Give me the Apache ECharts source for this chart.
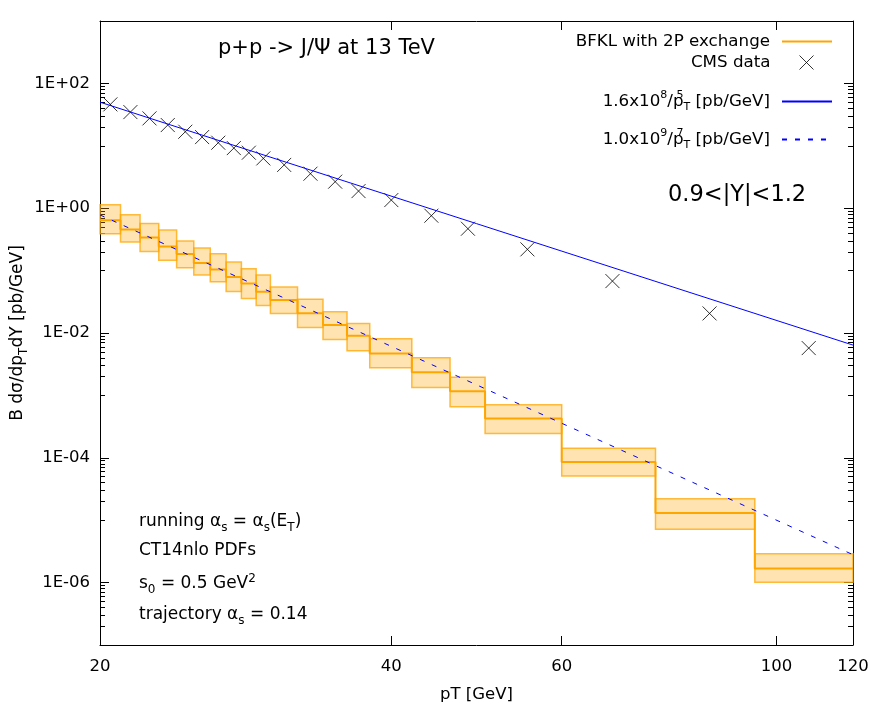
<!DOCTYPE html>
<html>
<head>
<meta charset="utf-8">
<script src="https://cdn.jsdelivr.net/npm/echarts@6/dist/echarts.min.js"></script>
<style>
html,body{margin:0;padding:0;background:#fff;}
#main{width:886px;height:709px;}
</style>
</head>
<body>
<div id="main"></div>
<script>
// 数据
var binEdges = [20,21,22,23,24,25,26,27,28,29,30,32,34,36,38,42,46,50,60,75,95,120];
var bfklCentral = [0.644,0.457,0.340,0.244,0.184,0.132,0.1045,0.0787,0.0624,0.0459,0.0337,0.0208,0.0134,0.00906,0.00471,0.00234,0.00117,0.000428,8.53e-5,1.30e-5,1.69e-6];
var bfklLow = [0.39,0.286,0.203,0.146,0.111,0.0848,0.0664,0.0464,0.0358,0.0277,0.0206,0.0122,0.00789,0.0052,0.00278,0.00134,0.000659,0.000246,5.09e-5,7.13e-6,1.01e-6];
var bfklHigh = [1.14,0.787,0.570,0.446,0.297,0.230,0.187,0.137,0.107,0.0848,0.0544,0.0349,0.0219,0.01425,0.0081,0.00402,0.00196,0.00071,0.000142,2.21e-5,2.90e-6];
var cmsPt = [20.5,21.5,22.5,23.5,24.5,25.5,26.5,27.5,28.5,29.5,31,33,35,37,40,44,48,55.3,67.7,85.3,108];
var cmsVal = [46.1,34.7,27.5,21.5,16.8,13.8,11.2,9.19,7.75,6.28,4.94,3.57,2.66,1.88,1.35,0.758,0.469,0.219,0.0679,0.0206,0.00573];
var fitPt = [20,120];
var fit5Val = [50,0.0064];
var fit7Val = [0.78,2.8e-6];
var xTicks = [20,40,60,100,120];
var yTicks = [1e-6,1e-4,1e-2,1,100];

var FONT = 'DejaVu Sans';

// 次刻度
var yMinor = [];
[1e-8,1e-6,1e-4,1e-2,1].forEach(function(m){
  for (var k = 1; k <= 9; k++) {
    var v = k * m * 10;
    if (v >= 1e-7 && v <= 1e3) yMinor.push(v);
  }
});

// 组装数据
var bandData = [], stepData = [];
for (var i = 0; i < bfklCentral.length; i++) {
  bandData.push([binEdges[i], binEdges[i+1], bfklLow[i], bfklHigh[i]]);
  stepData.push([binEdges[i], bfklCentral[i]]);
  stepData.push([binEdges[i+1], bfklCentral[i]]);
}
var cmsData = cmsPt.map(function(x, i){ return [x, cmsVal[i]]; });
var fit5Data = fitPt.map(function(x, i){ return [x, fit5Val[i]]; });
var fit7Data = fitPt.map(function(x, i){ return [x, fit7Val[i]]; });

function mkRich(fs) {
  var s = Math.round(fs * 0.68);
  return {
    sup: {fontSize: s, fontFamily: FONT, color: '#000', lineHeight: s, verticalAlign: 'top'},
    sub: {fontSize: s, fontFamily: FONT, color: '#000', lineHeight: s, verticalAlign: 'bottom'},
    supz: {fontSize: s, fontFamily: FONT, color: '#000', lineHeight: s, verticalAlign: 'top', width: 0},
    n: {fontSize: fs, fontFamily: FONT, color: '#000', lineHeight: Math.round(fs * 1.35)}
  };
}
var richLegend = mkRich(16.7);
var richNote = mkRich(17);

var legendText = {
  'BFKL with 2P exchange': '{n|BFKL with 2P exchange}',
  'CMS data': '{n|CMS data}',
  'fit5': '{n|1.6x10}{sup|8}{n|/p}{supz|5}{sub|T}{n| [pb/GeV]}',
  'fit7': '{n|1.0x10}{sup|9}{n|/p}{supz|7}{sub|T}{n| [pb/GeV]}'
};

// 每个图例单独定位
function mkLegend(name, cy, opt) {
  var lg = {
    data: [name],
    right: 48,
    top: cy - 11 - 5,
    align: 'right',
    itemWidth: 50,
    itemHeight: 13,
    selectedMode: false,
    itemStyle: {opacity: 0},
    formatter: function(n){ return legendText[n]; },
    textStyle: {fontSize: 16.7, fontFamily: FONT, color: '#000', padding: [0, 7, 0, 0], rich: richLegend}
  };
  for (var k in opt) lg[k] = opt[k];
  return lg;
}

function expLabel(v) {
  var e = Math.round(Math.log10(v));
  var a = Math.abs(e);
  return '1E' + (e < 0 ? '-' : '+') + (a < 10 ? '0' : '') + a;
}

var myChart = echarts.init(document.getElementById('main'));
var option = {
  animation: false,
  backgroundColor: '#fff',
  grid: {left: 100, right: 33, top: 21, bottom: 64},
  legend: [
    mkLegend('BFKL with 2P exchange', 44),
    mkLegend('CMS data', 65, {
      itemWidth: 14, itemHeight: 14, right: 67,
      itemStyle: {color: 'rgba(0,0,0,0)', borderColor: '#000', borderWidth: 1},
      textStyle: {fontSize: 16.7, fontFamily: FONT, color: '#000', padding: [0, 24, 0, 0], rich: richLegend}
    }),
    mkLegend('fit5', 101),
    mkLegend('fit7', 139)
  ],
  xAxis: [
    {
      type: 'log', min: 20, max: 120, position: 'bottom',
      name: 'pT [GeV]', nameLocation: 'middle', nameGap: 41,
      nameTextStyle: {fontSize: 16.5, fontFamily: FONT, color: '#000'},
      axisLine: {lineStyle: {color: '#000', width: 1}},
      axisTick: {inside: true, length: 9, customValues: xTicks, lineStyle: {color: '#000'}},
      axisLabel: {customValues: xTicks, margin: 13, fontSize: 16.5, fontFamily: FONT, color: '#000'},
      splitLine: {show: false}
    },
    {
      type: 'log', min: 20, max: 120, position: 'top',
      axisLine: {lineStyle: {color: '#000', width: 1}},
      axisTick: {inside: true, length: 9, customValues: xTicks, lineStyle: {color: '#000'}},
      axisLabel: {show: false},
      splitLine: {show: false}
    }
  ],
  yAxis: [
    {
      type: 'log', min: 1e-7, max: 1e3, position: 'left',
      axisLine: {lineStyle: {color: '#000', width: 1}},
      axisTick: {inside: true, length: 9, customValues: yTicks, lineStyle: {color: '#000'}},
      axisLabel: {customValues: yTicks, margin: 10, fontSize: 16.5, fontFamily: FONT, color: '#000', formatter: expLabel},
      splitLine: {show: false}
    },
    {
      type: 'log', min: 1e-7, max: 1e3, position: 'left',
      axisLine: {show: false},
      axisTick: {inside: true, length: 5, customValues: yMinor, lineStyle: {color: '#000'}},
      axisLabel: {show: false},
      splitLine: {show: false}
    },
    {
      type: 'log', min: 1e-7, max: 1e3, position: 'right',
      axisLine: {lineStyle: {color: '#000', width: 1}},
      axisTick: {inside: true, length: 9, customValues: yTicks, lineStyle: {color: '#000'}},
      axisLabel: {show: false},
      splitLine: {show: false}
    },
    {
      type: 'log', min: 1e-7, max: 1e3, position: 'right',
      axisLine: {show: false},
      axisTick: {inside: true, length: 5, customValues: yMinor, lineStyle: {color: '#000'}},
      axisLabel: {show: false},
      splitLine: {show: false}
    }
  ],
  series: [
    {
      name: 'band', type: 'custom',
      data: bandData,
      encode: {x: [0, 1], y: [2, 3]},
      renderItem: function(params, api){
        var p1 = api.coord([api.value(0), api.value(3)]);
        var p2 = api.coord([api.value(1), api.value(2)]);
        return {
          type: 'rect',
          shape: {x: p1[0], y: p1[1], width: p2[0] - p1[0], height: p2[1] - p1[1]},
          style: {fill: 'rgba(255,165,0,0.3)', stroke: 'rgba(255,165,0,0.75)', lineWidth: 1.5}
        };
      },
      silent: true
    },
    {
      name: 'BFKL with 2P exchange', type: 'line',
      data: stepData, symbol: 'none',
      lineStyle: {color: '#ffa500', width: 2},
      itemStyle: {color: '#ffa500'}
    },
    {
      name: 'CMS data', type: 'scatter',
      data: cmsData,
      symbol: 'path://M0,0L10,10M10,0L0,10',
      symbolSize: 14,
      itemStyle: {color: 'rgba(0,0,0,0)', borderColor: '#000', borderWidth: 1}
    },
    {
      name: 'fit5', type: 'line',
      data: fit5Data, symbol: 'none',
      lineStyle: {color: '#0000ff', width: 1},
      itemStyle: {color: '#0000ff'}
    },
    {
      name: 'fit7', type: 'line',
      data: fit7Data, symbol: 'none',
      lineStyle: {color: '#0000ff', width: 1, type: [5, 8]},
      itemStyle: {color: '#0000ff'}
    }
  ],
  graphic: [
    {type: 'text', x: 218, y: 49, style: {text: 'p+p -> J/\u03a8 at 13 TeV', fontSize: 21, fontFamily: FONT, fill: '#000', verticalAlign: 'middle'}},
    {type: 'text', x: 668, y: 195, style: {text: '0.9<|Y|<1.2', fontSize: 22.5, fontFamily: FONT, fill: '#000', verticalAlign: 'middle'}},
    {type: 'text', x: 139, y: 522, style: {text: '{n|running \u03b1}{sub|s}{n| = \u03b1}{sub|s}{n|(E}{sub|T}{n|)}', rich: richNote, verticalAlign: 'middle'}},
    {type: 'text', x: 139, y: 551, style: {text: '{n|CT14nlo PDFs}', rich: richNote, verticalAlign: 'middle'}},
    {type: 'text', x: 139, y: 584, style: {text: '{n|s}{sub|0}{n| = 0.5 GeV}{sup|2}', rich: richNote, verticalAlign: 'middle'}},
    {type: 'text', x: 139, y: 615, style: {text: '{n|trajectory \u03b1}{sub|s}{n| = 0.14}', rich: richNote, verticalAlign: 'middle'}},
    {type: 'text', x: 18, y: 333, rotation: Math.PI / 2, style: {text: '{n|B d\u03c3/dp}{sub|T}{n|dY [pb/GeV]}', rich: richNote, align: 'center', verticalAlign: 'middle'}}
  ]
};
myChart.setOption(option);
</script>
</body>
</html>
